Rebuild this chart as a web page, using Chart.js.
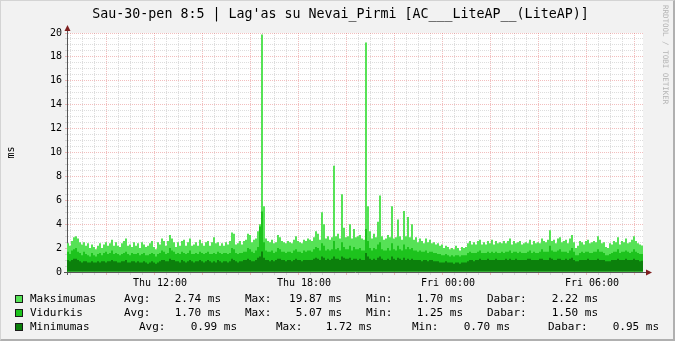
<!DOCTYPE html>
<html>
<head>
<meta charset="utf-8">
<script src="https://cdn.jsdelivr.net/npm/chart.js@4.4.1/dist/chart.umd.min.js"></script>
<style>
  html, body { margin: 0; padding: 0; background: #f2f2f2; }
  #wrap { position: relative; width: 675px; height: 341px; overflow: hidden; }
  #c { position: absolute; left: 0; top: 0; }
  .frame { position: absolute; left: 0; top: 0; width: 675px; height: 341px; box-sizing: border-box;
           border-left: 1px solid #d4d4d4; border-top: 1px solid #d4d4d4;
           border-right: 2px solid #b0b0b0; border-bottom: 2px solid #b0b0b0; pointer-events: none; }
  .txt { position: absolute; font-family: "DejaVu Sans Mono", monospace; white-space: pre; color: #000; }
  #title { left: 0; width: 681px; top: 7px; text-align: center; font-size: 13.3px; line-height: 13px; }
  #mark { left: 661px; top: 5px; font-size: 7.5px; color: #b4b4b4; writing-mode: vertical-rl; line-height: 8px; }
  .leg { font-size: 11px; line-height: 11px; }
  .box { position: absolute; width: 8px; height: 8px; box-sizing: border-box; border: 1px solid #1a1a1a; }
</style>
</head>
<body>
<div id="wrap">
  <canvas id="c" width="675" height="341"></canvas>
  <div id="title" class="txt">Sau-30-pen 8:5 | Lag'as su Nevai_Pirmi [AC___LiteAP__(LiteAP)]</div>
  <div id="mark" class="txt">RRDTOOL / TOBI OETIKER</div>
  <div id="legend"></div>
  <div class="frame"></div>
</div>
<script>
// 5-minute samples, Thu 08:10 .. Fri 08:05 (ms)
const maxVals = [
  2.4,2.2,2.6,2.9,3.0,2.8,2.5,2.3,2.5,2.2,2.4,2.0,2.3,2.1,1.9,2.2,2.4,2.0,2.3,2.5,2.2,2.4,2.7,2.2,
  2.5,2.2,2.1,2.4,2.6,2.8,2.2,2.3,2.1,2.5,2.2,2.4,2.0,2.5,2.3,2.1,2.2,2.4,2.6,2.1,1.9,2.5,2.3,2.8,
  2.6,2.2,2.6,3.1,2.8,2.5,2.1,2.5,2.2,2.6,2.7,2.2,2.5,2.8,2.2,2.3,2.5,2.2,2.7,2.4,2.2,2.5,2.6,2.2,
  2.5,2.9,2.4,2.5,2.2,2.4,2.2,2.5,2.3,2.6,3.3,3.2,2.3,2.4,2.6,2.3,2.6,2.7,3.2,3.1,2.5,2.7,2.8,3.4,
  4.0,19.87,5.5,2.8,2.6,2.5,2.7,2.4,2.5,3.1,2.9,2.6,2.5,2.4,2.6,2.5,2.4,2.7,3.0,2.6,2.5,2.4,2.7,2.6,
  2.8,2.7,2.6,2.9,3.4,3.2,2.7,5.0,4.0,2.8,3.0,2.7,2.9,8.9,3.0,3.2,2.8,6.5,3.7,2.9,3.0,4.0,2.8,3.6,
  2.9,3.0,3.1,2.8,2.7,19.2,5.5,3.4,2.8,3.2,2.9,4.2,6.4,3.0,2.7,2.8,3.1,2.9,5.5,2.8,2.9,4.4,3.0,2.7,
  5.1,3.0,4.6,2.9,4.0,2.7,2.9,2.5,2.8,2.6,2.4,2.8,2.5,2.7,2.4,2.5,2.3,2.4,2.2,2.3,2.0,2.2,2.1,1.9,
  2.0,1.9,2.2,2.0,1.8,2.1,2.0,2.1,2.4,2.6,2.3,2.5,2.3,2.6,2.7,2.3,2.5,2.3,2.6,2.4,2.7,2.3,2.6,2.4,
  2.5,2.4,2.6,2.4,2.6,2.8,2.3,2.6,2.4,2.5,2.6,2.3,2.4,2.5,2.4,2.7,2.3,2.6,2.4,2.5,2.4,2.8,2.6,2.5,
  2.7,3.5,2.6,2.7,2.4,2.8,2.9,2.5,2.6,2.7,2.4,2.8,3.1,2.5,2.0,2.2,2.6,2.5,2.3,2.6,2.7,2.4,2.5,2.6,
  2.5,3.0,2.7,2.4,2.5,2.1,2.0,2.4,2.3,2.6,2.5,2.9,2.3,2.6,2.5,2.8,2.4,2.5,2.7,3.0,2.6,2.4,2.3,2.22
];
const avgVals = [
  1.7,1.5,1.8,1.9,2.0,1.7,1.6,1.4,1.7,1.5,1.4,1.3,1.6,1.4,1.3,1.5,1.6,1.4,1.6,1.7,1.5,1.6,1.8,1.5,
  1.6,1.5,1.4,1.5,1.6,1.7,1.5,1.4,1.6,1.5,1.5,1.6,1.4,1.5,1.6,1.4,1.4,1.5,1.6,1.5,1.3,1.5,1.6,1.8,
  1.7,1.5,1.6,2.0,1.8,1.7,1.5,1.6,1.5,1.7,1.6,1.5,1.6,1.8,1.5,1.5,1.6,1.5,1.7,1.6,1.5,1.6,1.7,1.5,
  1.5,1.6,1.5,1.7,1.6,1.5,1.6,1.6,1.5,1.6,2.0,1.9,1.6,1.5,1.6,1.6,1.7,1.7,2.0,1.9,1.7,1.6,1.8,2.1,
  3.8,5.07,2.5,1.8,1.7,1.7,1.8,1.6,1.7,2.0,1.9,1.7,1.7,1.6,1.7,1.7,1.6,1.8,1.9,1.7,1.7,1.6,1.8,1.7,
  1.8,1.8,1.7,1.9,2.1,2.0,1.8,2.4,2.2,1.8,1.9,1.8,1.9,2.6,1.9,2.0,1.8,2.5,2.1,1.9,1.9,2.2,1.8,2.1,
  1.9,1.9,2.0,1.8,1.8,3.6,2.6,2.0,1.8,2.0,1.9,2.3,2.5,1.9,1.8,1.8,2.0,1.8,2.4,1.9,1.8,2.2,1.9,1.8,
  2.3,1.9,2.1,1.9,2.0,1.8,1.8,1.7,1.8,1.7,1.7,1.8,1.6,1.7,1.7,1.6,1.6,1.5,1.5,1.4,1.4,1.5,1.4,1.3,
  1.4,1.3,1.4,1.4,1.3,1.4,1.4,1.4,1.6,1.7,1.6,1.6,1.6,1.7,1.8,1.6,1.6,1.6,1.7,1.6,1.7,1.6,1.7,1.6,
  1.6,1.7,1.6,1.7,1.7,1.8,1.6,1.7,1.7,1.6,1.7,1.6,1.6,1.6,1.7,1.8,1.6,1.7,1.6,1.6,1.7,1.9,1.7,1.7,
  1.7,2.2,1.8,1.7,1.7,1.8,1.9,1.7,1.7,1.7,1.6,1.8,2.0,1.7,1.4,1.4,1.6,1.7,1.6,1.7,1.7,1.6,1.6,1.7,
  1.7,1.9,1.7,1.7,1.6,1.4,1.4,1.5,1.6,1.7,1.7,1.9,1.6,1.7,1.7,1.8,1.7,1.6,1.7,1.9,1.7,1.6,1.5,1.50
];
const minVals = [
  1.0,0.9,1.0,1.1,1.1,1.0,0.9,0.8,0.9,0.9,0.8,0.8,0.9,0.8,0.8,0.9,0.8,0.9,0.9,0.8,0.9,0.9,1.0,0.9,
  0.9,0.8,0.8,0.9,0.9,1.0,0.8,0.8,0.9,0.9,0.8,0.9,0.8,0.8,0.9,0.8,0.7,0.8,0.9,0.8,0.7,0.8,0.9,1.0,
  1.0,0.9,0.9,1.1,1.0,1.0,0.9,0.9,0.8,1.0,0.9,0.8,0.9,1.0,0.9,0.8,0.9,0.9,1.0,0.9,0.8,0.9,1.0,0.9,
  0.8,0.9,0.8,1.0,0.9,0.8,0.9,0.9,0.8,0.9,1.1,1.0,0.9,0.8,0.9,0.9,1.0,1.0,1.1,1.0,0.9,0.9,1.0,1.2,
  1.3,1.72,1.2,1.0,1.0,0.9,1.0,0.9,1.0,1.1,1.1,1.0,1.0,0.9,1.0,1.0,0.9,1.0,1.1,1.0,1.0,0.9,1.0,1.0,
  1.0,1.0,1.0,1.1,1.2,1.1,1.0,1.3,1.2,1.0,1.1,1.0,1.1,1.3,1.1,1.1,1.0,1.3,1.2,1.1,1.1,1.2,1.0,1.1,
  1.1,1.0,1.1,1.0,1.0,1.6,1.3,1.1,1.0,1.1,1.0,1.2,1.3,1.1,1.0,1.0,1.1,1.0,1.3,1.1,1.0,1.2,1.1,1.0,
  1.2,1.0,1.1,1.0,1.1,1.0,1.0,1.0,1.0,0.9,1.0,1.0,0.9,1.0,1.0,0.9,0.9,0.9,0.8,0.8,0.8,0.9,0.8,0.8,
  0.8,0.7,0.8,0.8,0.7,0.8,0.8,0.8,0.9,1.0,1.0,0.9,1.0,1.0,1.1,1.0,1.0,1.0,1.1,1.0,1.0,1.0,1.1,1.0,
  1.0,1.0,1.0,1.1,1.0,1.1,1.0,1.0,1.1,1.0,1.0,1.0,1.0,1.0,1.1,1.1,1.0,1.0,1.0,1.0,1.1,1.1,1.0,1.0,
  1.0,1.2,1.1,1.0,1.0,1.1,1.1,1.0,1.0,1.1,1.0,1.1,1.2,1.0,0.9,0.9,1.0,1.0,1.0,1.0,1.1,1.0,1.0,1.0,
  1.0,1.1,1.0,1.0,1.0,0.9,0.9,0.9,1.0,1.0,1.0,1.1,1.0,1.0,1.0,1.1,1.0,1.0,1.0,1.1,1.0,1.0,0.9,0.95
];

// time in minutes from Thu 00:00
const startMinute = 490;
const stepMinutes = 5;
const viewMin = 487.5;
const viewMax = 1927.5;

const tickMinutes = [720, 1080, 1440, 1800];
const tickLabels = ['Thu 12:00', 'Thu 18:00', 'Fri 00:00', 'Fri 06:00'];
const yLabelValues = [0, 2, 4, 6, 8, 10, 12, 14, 16, 18, 20];

const seriesNames = ['Maksimumas', 'Vidurkis', 'Minimumas'];
const seriesColors = ['#56e256', '#1dc31d', '#0c800c'];
const statAvg = ['2.74', '1.70', '0.99'];
const statMax = ['19.87', '5.07', '1.72'];
const statMin = ['1.70', '1.25', '0.70'];
const statNow = ['2.22', '1.50', '0.95'];

const gridGray = 'rgba(150,150,150,0.32)';
const gridRed = 'rgba(225,100,100,0.42)';
const axisColor = '#555555';
const arrowColor = '#7f1f1f';

function toPoints(vals) {
  return vals.map((v, i) => ({ x: startMinute + i * stepMinutes, y: v }));
}

// minor grid every 30 min / 0.5 ms
const xGrid = [];
for (let m = 510; m <= 1920; m += 30) xGrid.push(m);
const yGrid = [];
for (let v = 0; v <= 20; v += 0.5) yGrid.push(v);

// white plot canvas behind bars
const plotBg = {
  id: 'plotBg',
  beforeDraw(chart) {
    const { ctx, chartArea: a } = chart;
    ctx.save();
    ctx.fillStyle = '#ffffff';
    ctx.fillRect(a.left, a.top, a.right - a.left, a.bottom - a.top);
    ctx.restore();
  }
};

// axis extensions and arrow heads like rrdtool
const arrows = {
  id: 'arrows',
  afterDraw(chart) {
    const { ctx, chartArea: a } = chart;
    const x0 = Math.round(a.left) + 0.5;
    const y0 = Math.round(a.bottom) + 0.5;
    ctx.save();
    ctx.strokeStyle = axisColor;
    ctx.lineWidth = 1;
    ctx.beginPath();
    ctx.moveTo(x0, a.top); ctx.lineTo(x0, a.top - 3);
    ctx.moveTo(x0, a.bottom); ctx.lineTo(x0, a.bottom + 3);
    ctx.moveTo(a.right, y0); ctx.lineTo(a.right + 3, y0);
    ctx.moveTo(a.left - 3, y0); ctx.lineTo(a.left, y0);
    ctx.stroke();
    ctx.fillStyle = arrowColor;
    ctx.beginPath();
    ctx.moveTo(x0, a.top - 8); ctx.lineTo(x0 - 3, a.top - 2); ctx.lineTo(x0 + 3, a.top - 2);
    ctx.closePath(); ctx.fill();
    ctx.beginPath();
    ctx.moveTo(a.right + 9, y0); ctx.lineTo(a.right + 3, y0 - 3); ctx.lineTo(a.right + 3, y0 + 3);
    ctx.closePath(); ctx.fill();
    ctx.restore();
  }
};

const monoFont = { family: 'DejaVu Sans Mono', size: 10 };

new Chart(document.getElementById('c'), {
  type: 'bar',
  data: {
    datasets: [
      { label: seriesNames[0], data: toPoints(maxVals), backgroundColor: seriesColors[0], order: 3 },
      { label: seriesNames[1], data: toPoints(avgVals), backgroundColor: seriesColors[1], order: 2 },
      { label: seriesNames[2], data: toPoints(minVals), backgroundColor: seriesColors[2], order: 1 }
    ]
  },
  options: {
    responsive: false,
    animation: false,
    devicePixelRatio: 1,
    datasets: {
      bar: { grouped: false, barPercentage: 1, categoryPercentage: 1, borderWidth: 0, inflateAmount: 0 }
    },
    layout: { padding: { left: 0, top: 33, right: 32, bottom: 49 } },
    plugins: { legend: { display: false }, tooltip: { enabled: false } },
    scales: {
      x: {
        type: 'linear',
        min: viewMin,
        max: viewMax,
        offset: false,
        z: 1,
        afterBuildTicks: s => { s.ticks = xGrid.map(v => ({ value: v })); },
        afterFit: s => { s.height = 20; s.paddingLeft = 0; s.paddingRight = 0; },
        ticks: {
          autoSkip: false, maxRotation: 0, padding: 2, color: '#000', font: monoFont,
          callback: v => { const k = tickMinutes.indexOf(v); return k >= 0 ? tickLabels[k] : ''; }
        },
        grid: {
          color: c => (c.tick && c.tick.value % 120 === 0) ? gridRed : gridGray,
          tickLength: 3
        },
        border: { color: axisColor, dash: [1, 1] }
      },
      y: {
        min: 0,
        max: 20,
        z: 1,
        afterBuildTicks: s => { s.ticks = yGrid.map(v => ({ value: v })); },
        afterFit: s => { s.width = 67; s.paddingTop = 0; s.paddingBottom = 0; },
        ticks: {
          autoSkip: false, padding: 3, color: '#000', font: monoFont,
          callback: v => yLabelValues.includes(v) ? String(v) : ''
        },
        grid: {
          color: c => (c.tick && c.tick.value % 2 === 0) ? gridRed : gridGray,
          tickLength: 2
        },
        border: { color: axisColor, dash: [1, 1] },
        title: { display: true, text: 'ms', color: '#000', font: monoFont, padding: { top: 5, bottom: 0 } }
      }
    }
  },
  plugins: [plotBg, arrows]
});

// rrdtool style legend with statistics
const legend = document.getElementById('legend');
const rowTops = [293, 307, 321];
const rowCols = [
  [124, 221, 245, 342, 366, 463, 487, 598],
  [124, 221, 245, 342, 366, 463, 487, 598],
  [139, 237, 276, 372, 412, 510, 548, 659]
];
function addText(text, x, y, right) {
  const d = document.createElement('div');
  d.className = 'txt leg';
  d.textContent = text;
  d.style.top = y + 'px';
  if (right) { d.style.left = (x - 100) + 'px'; d.style.width = '100px'; d.style.textAlign = 'right'; }
  else d.style.left = x + 'px';
  legend.appendChild(d);
}
seriesNames.forEach((name, r) => {
  const y = rowTops[r];
  const b = document.createElement('div');
  b.className = 'box';
  b.style.left = '15px';
  b.style.top = (y + 2) + 'px';
  b.style.background = seriesColors[r];
  legend.appendChild(b);
  addText(name, 30, y, false);
  const c = rowCols[r];
  addText('Avg:', c[0], y, false);
  addText(statAvg[r] + ' ms', c[1], y, true);
  addText('Max:', c[2], y, false);
  addText(statMax[r] + ' ms', c[3], y, true);
  addText('Min:', c[4], y, false);
  addText(statMin[r] + ' ms', c[5], y, true);
  addText('Dabar:', c[6], y, false);
  addText(statNow[r] + ' ms', c[7], y, true);
});
</script>
</body>
</html>
